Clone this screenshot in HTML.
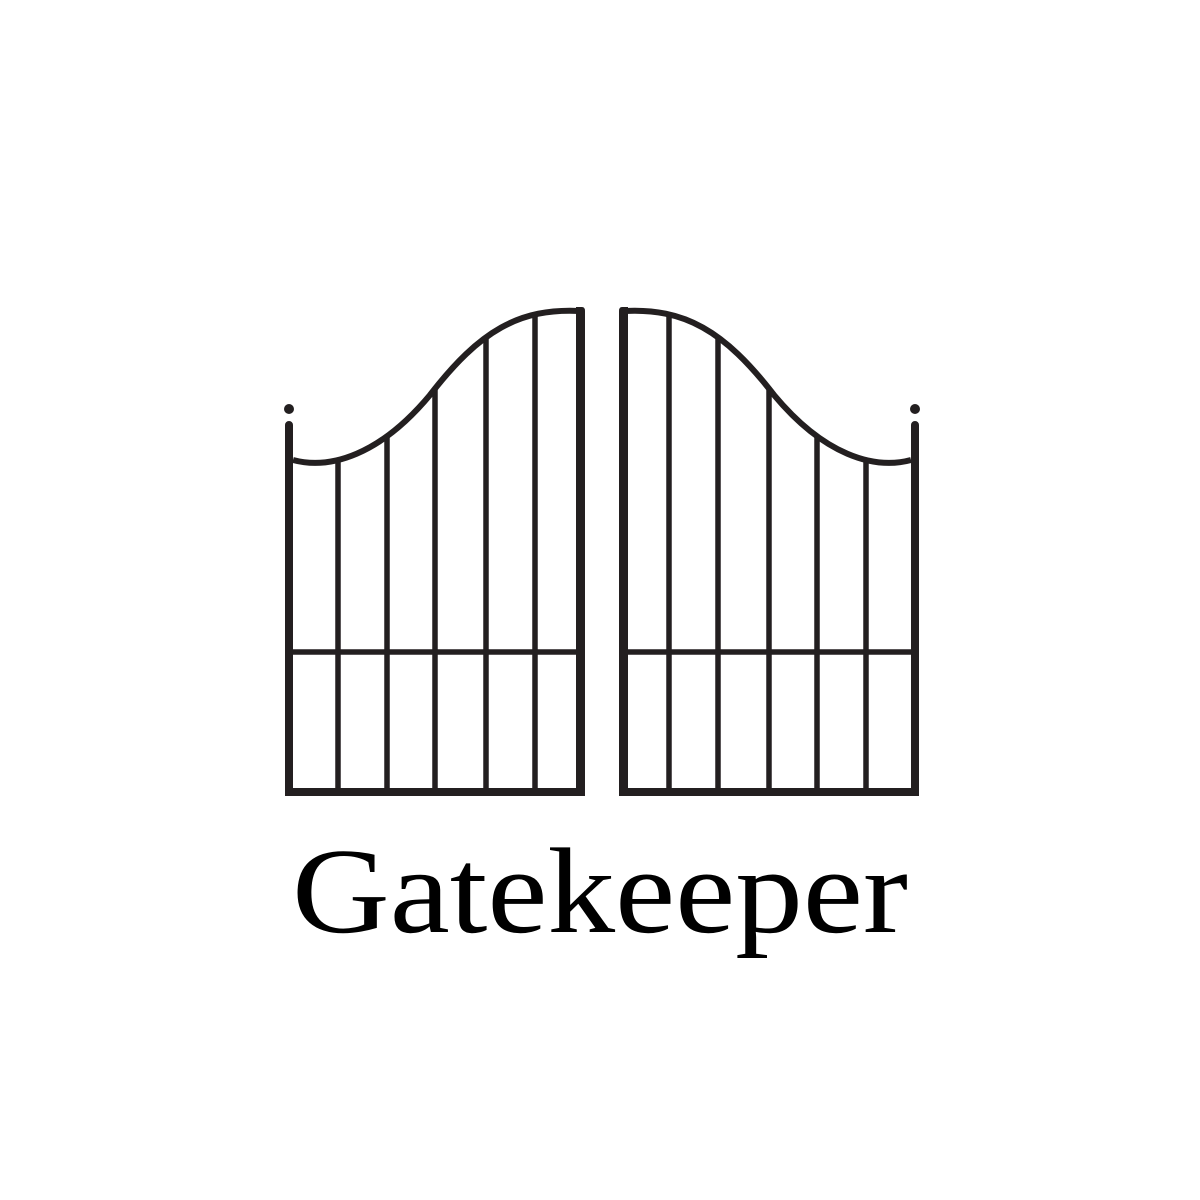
<!DOCTYPE html>
<html><head><meta charset="utf-8"><style>
html,body{margin:0;padding:0;background:#fff;width:1200px;height:1200px;overflow:hidden}
</style></head><body>
<svg width="1200" height="1200" viewBox="0 0 1200 1200">
<defs>
<clipPath id="below">
<path d="M293,460 C330,470 380,455 430,395 C480,330 520,308 580,311 L580,800 L293,800 Z"/>
</clipPath>
<g id="gate">
  <g clip-path="url(#below)" stroke="#231f20" stroke-width="5.5" fill="none">
    <line x1="338" y1="300" x2="338" y2="792"/>
    <line x1="387" y1="300" x2="387" y2="792"/>
    <line x1="435" y1="300" x2="435" y2="792"/>
    <line x1="486" y1="300" x2="486" y2="792"/>
    <line x1="535" y1="300" x2="535" y2="792"/>
    <line x1="289" y1="652" x2="580" y2="652"/>
  </g>
  <path d="M293,460 C330,470 380,455 430,395 C480,330 520,308 580,311" stroke="#231f20" stroke-width="6" fill="none"/>
  <path d="M289,425 L289,792 L581,792" stroke="#231f20" stroke-width="8" fill="none" stroke-linecap="round"/>
  <path d="M576,796 L576,307 L582,307 Q585,307 585,311 L585,796 Z" fill="#231f20"/>
  <circle cx="289" cy="409" r="5" fill="#231f20"/>
</g>
</defs>
<use href="#gate"/>
<use href="#gate" transform="translate(1204,0) scale(-1,1)"/>
<text x="292" y="932" font-family="'Liberation Serif',serif" font-size="122" fill="#000" textLength="616" lengthAdjust="spacingAndGlyphs">Gatekeeper</text>
</svg>
</body></html>
